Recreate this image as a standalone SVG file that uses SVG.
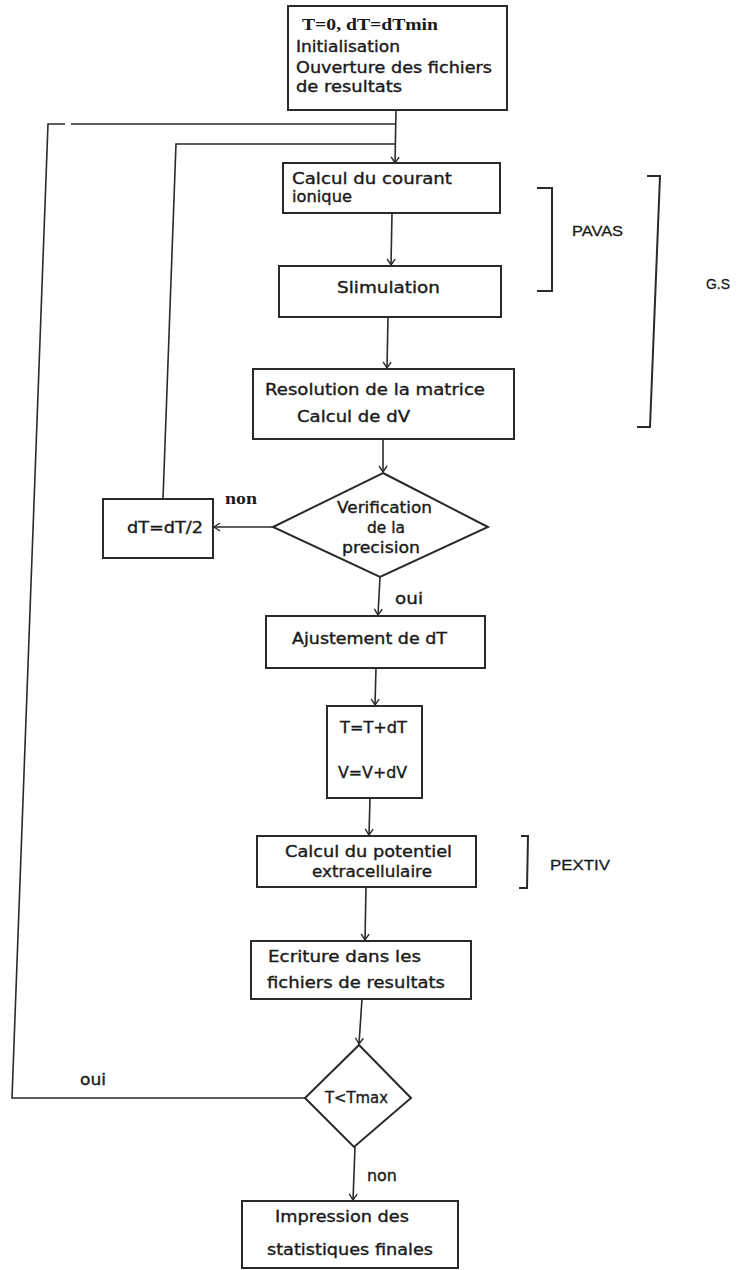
<svg xmlns="http://www.w3.org/2000/svg" width="739" height="1270" viewBox="0 0 739 1270">
<style>
.box{fill:#fff;stroke:#2a2a2a;stroke-width:2}
.ln{fill:none;stroke:#2a2a2a;stroke-width:1.6}
.br{fill:none;stroke:#2a2a2a;stroke-width:2}
.t{font-family:"DejaVu Sans",sans-serif;font-size:15px;fill:#1a1a1a;stroke:#1a1a1a;stroke-width:0.35}
.s{font-family:"Liberation Serif",serif;font-size:16px;font-weight:bold;fill:#1a1a1a}
.a{font-family:"Liberation Sans",Arial,sans-serif;font-size:15px;fill:#1a1a1a;stroke:#1a1a1a;stroke-width:0.3}
</style>
<defs>
<marker id="ah" viewBox="-8 -5 10 10" markerWidth="10" markerHeight="10" refX="0" refY="0" orient="auto" markerUnits="userSpaceOnUse">
<path d="M-6,-4 L0,0 L-6,4" fill="none" stroke="#2a2a2a" stroke-width="1.4"/>
</marker>
</defs>
<rect width="739" height="1270" fill="#fff"/>

<g id="connectors">
<path class="ln" d="M396,110 L395,163" marker-end="url(#ah)"/>
<path class="ln" d="M305,1098 L12,1098 L48,124 L65,124 M71,124 L395,124"/>
<path class="ln" d="M163,499 L176,144 L395,144"/>
<path class="ln" d="M392,213 L391,265" marker-end="url(#ah)"/>
<path class="ln" d="M388,317 L387,368" marker-end="url(#ah)"/>
<path class="ln" d="M383,439 L383,472" marker-end="url(#ah)"/>
<path class="ln" d="M273,527 L214,527" marker-end="url(#ah)"/>
<path class="ln" d="M380,577 L378,615" marker-end="url(#ah)"/>
<path class="ln" d="M376,668 L375,705" marker-end="url(#ah)"/>
<path class="ln" d="M370,798 L369,835" marker-end="url(#ah)"/>
<path class="ln" d="M366,887 L365,940" marker-end="url(#ah)"/>
<path class="ln" d="M362,999 L359,1044" marker-end="url(#ah)"/>
<path class="ln" d="M355,1147 L353,1200" marker-end="url(#ah)"/>
<text class="s" x="225" y="504" textLength="32" lengthAdjust="spacingAndGlyphs">non</text>
<text class="t" x="395" y="604" textLength="28" lengthAdjust="spacingAndGlyphs">oui</text>
<text class="t" x="80" y="1085" textLength="26" lengthAdjust="spacingAndGlyphs">oui</text>
<text class="t" x="367" y="1181" textLength="30" lengthAdjust="spacingAndGlyphs">non</text>
</g>

<g id="n_init">
<rect class="box" x="288" y="6" width="219" height="104"/>
<text class="s" x="302" y="30" textLength="136" lengthAdjust="spacingAndGlyphs">T=0, dT=dTmin</text>
<text class="t" x="296" y="52" textLength="104" lengthAdjust="spacingAndGlyphs">Initialisation</text>
<text class="t" x="296" y="73" textLength="196" lengthAdjust="spacingAndGlyphs">Ouverture des fichiers</text>
<text class="t" x="296" y="92" textLength="106" lengthAdjust="spacingAndGlyphs">de resultats</text>
</g>

<g id="n_courant">
<rect class="box" x="283" y="163" width="217" height="50"/>
<text class="t" x="292" y="184" textLength="160" lengthAdjust="spacingAndGlyphs">Calcul du courant</text>
<text class="t" x="292" y="202" textLength="60" lengthAdjust="spacingAndGlyphs">ionique</text>
</g>

<g id="n_stim">
<rect class="box" x="279" y="266" width="222" height="51"/>
<text class="t" x="337" y="293" textLength="103" lengthAdjust="spacingAndGlyphs">Slimulation</text>
</g>

<g id="n_resol">
<rect class="box" x="253" y="369" width="261" height="70"/>
<text class="t" x="265" y="395" textLength="220" lengthAdjust="spacingAndGlyphs">Resolution de la matrice</text>
<text class="t" x="297" y="422" textLength="113" lengthAdjust="spacingAndGlyphs">Calcul de dV</text>
</g>

<g id="b_pavas">
<path class="br" d="M537,188 L552,188 L552,291 L537,291"/>
<text class="a" x="572" y="236" textLength="51" lengthAdjust="spacingAndGlyphs">PAVAS</text>
</g>

<g id="b_gs">
<path class="br" d="M647,176 L660,176 L650,427 L637,427"/>
<text class="a" x="706" y="289" textLength="24" lengthAdjust="spacingAndGlyphs" font-size="16">G.S</text>
</g>

<g id="n_verif">
<polygon class="box" points="383,473 488,527 380,577 273,527"/>
<text class="t" x="337" y="513" textLength="95" lengthAdjust="spacingAndGlyphs">Verification</text>
<text class="t" x="367" y="533" textLength="38" lengthAdjust="spacingAndGlyphs">de la</text>
<text class="t" x="342" y="553" textLength="78" lengthAdjust="spacingAndGlyphs">precision</text>
</g>

<g id="n_half">
<rect class="box" x="103" y="499" width="110" height="59"/>
<text class="t" x="127" y="533" textLength="76" lengthAdjust="spacingAndGlyphs">dT=dT/2</text>
</g>

<g id="n_ajust">
<rect class="box" x="266" y="616" width="219" height="52"/>
<text class="t" x="292" y="644" textLength="155" lengthAdjust="spacingAndGlyphs">Ajustement de dT</text>
</g>

<g id="n_update">
<rect class="box" x="327" y="706" width="95" height="92"/>
<text class="t" x="340" y="733" textLength="67" lengthAdjust="spacingAndGlyphs">T=T+dT</text>
<text class="t" x="338" y="778" textLength="69" lengthAdjust="spacingAndGlyphs">V=V+dV</text>
</g>

<g id="n_potentiel">
<rect class="box" x="257" y="836" width="219" height="51"/>
<text class="t" x="285" y="857" textLength="167" lengthAdjust="spacingAndGlyphs">Calcul du potentiel</text>
<text class="t" x="312" y="877" textLength="120" lengthAdjust="spacingAndGlyphs">extracellulaire</text>
</g>

<g id="b_pextiv">
<path class="br" d="M521,836 L528,836 L527,888 L519,888"/>
<text class="a" x="550" y="870" textLength="60" lengthAdjust="spacingAndGlyphs">PEXTIV</text>
</g>

<g id="n_ecriture">
<rect class="box" x="251" y="941" width="220" height="58"/>
<text class="t" x="268" y="962" textLength="153" lengthAdjust="spacingAndGlyphs">Ecriture dans les</text>
<text class="t" x="267" y="988" textLength="178" lengthAdjust="spacingAndGlyphs">fichiers de resultats</text>
</g>

<g id="n_tmax">
<polygon class="box" points="359,1045 411,1098 354,1147 305,1098"/>
<text class="t" x="325" y="1103" textLength="63" lengthAdjust="spacingAndGlyphs">T&lt;Tmax</text>
</g>

<g id="n_impression">
<rect class="box" x="242" y="1201" width="216" height="67"/>
<text class="t" x="275" y="1222" textLength="134" lengthAdjust="spacingAndGlyphs">Impression des</text>
<text class="t" x="267" y="1255" textLength="166" lengthAdjust="spacingAndGlyphs">statistiques finales</text>
</g>
</svg>
